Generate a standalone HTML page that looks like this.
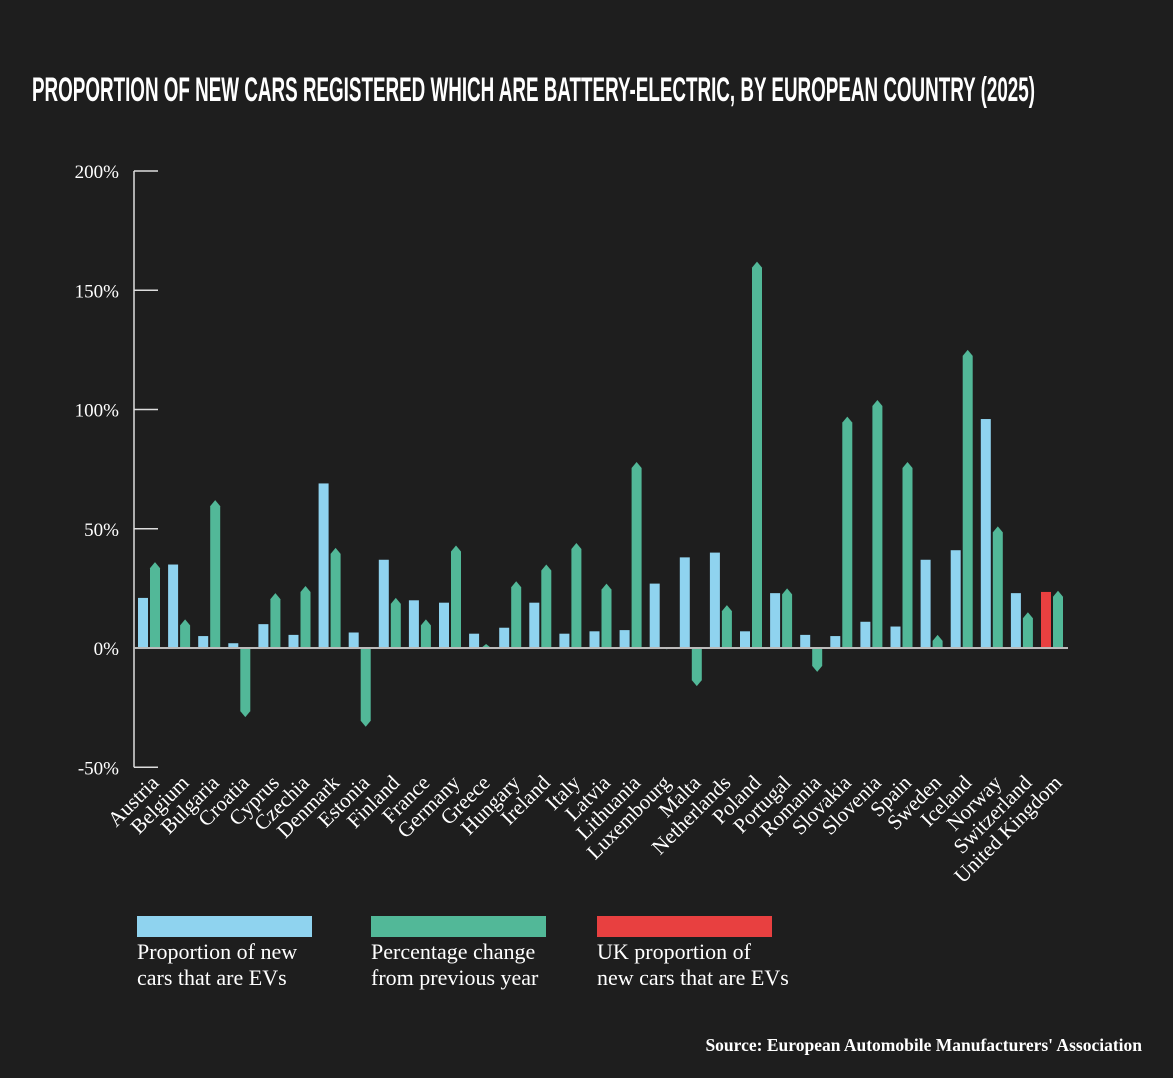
<!DOCTYPE html>
<html><head><meta charset="utf-8"><style>
html,body{margin:0;padding:0;background:#1e1e1e;}
svg{display:block}
</style></head><body>
<svg id="chart" width="1173" height="1078" xmlns="http://www.w3.org/2000/svg">
<rect width="1173" height="1078" fill="#1e1e1e"/>
<text x="32" y="101" fill="#fff" font-family="Liberation Sans Narrow, Liberation Sans, sans-serif" font-weight="bold" font-size="34" textLength="1003" lengthAdjust="spacingAndGlyphs">PROPORTION OF NEW CARS REGISTERED WHICH ARE BATTERY-ELECTRIC, BY EUROPEAN COUNTRY (2025)</text>
<g id="axis"></g>
<g id="bars"></g>
<g id="xlabels"></g>
<g font-family="Liberation Serif, serif" font-size="22" fill="#fff">
<rect x="137" y="916" width="175" height="21" fill="#8fd3ef"/>
<text x="137" y="959"><tspan x="137">Proportion of new</tspan><tspan x="137" dy="26">cars that are EVs</tspan></text>
<rect x="371" y="916" width="175" height="21" fill="#52b898"/>
<text x="371" y="959"><tspan x="371">Percentage change</tspan><tspan x="371" dy="26">from previous year</tspan></text>
<rect x="597" y="916" width="175" height="21" fill="#e84040"/>
<text x="597" y="959"><tspan x="597">UK proportion of</tspan><tspan x="597" dy="26">new cars that are EVs</tspan></text>
</g>
<text x="1142" y="1051" text-anchor="end" fill="#fff" font-family="Liberation Serif, serif" font-weight="bold" font-size="17.5">Source:  European Automobile Manufacturers' Association</text>
</svg>
<script>
const countries=["Austria","Belgium","Bulgaria","Croatia","Cyprus","Czechia","Denmark","Estonia","Finland","France","Germany","Greece","Hungary","Ireland","Italy","Latvia","Lithuania","Luxembourg","Malta","Netherlands","Poland","Portugal","Romania","Slovakia","Slovenia","Spain","Sweden","Iceland","Norway","Switzerland","United Kingdom"];
const share=[21,35,5,2,10,5.5,69,6.5,37,20,19,6,8.5,19,6,7,7.5,27,38,40,7,23,5.5,5,11,9,37,41,96,23,23.5];
const change=[36,12,62,-29,23,26,42,-33,21,12,43,1.7,28,35,44,27,78,-0.5,-16,18,162,25,-10,97,104,78,5.5,125,51,15,24];
const ticks=[200,150,100,50,0,-50];
const ns="http://www.w3.org/2000/svg";
const y0=648, pxPer=2.385, x0=138, pitch=30.1, bw=10;
const yS=v=>y0-v*pxPer;
function mk(tag,attrs,parent){const e=document.createElementNS(ns,tag);for(const k in attrs)e.setAttribute(k,attrs[k]);parent.appendChild(e);return e;}
const axis=document.getElementById('axis');
let al=mk('line',{x1:134,x2:134,y1:yS(200),y2:yS(-50),stroke:'#ddd','stroke-width':1.5},axis);


ticks.forEach(t=>{
  const l=mk('line',{x1:134,x2:158,y1:yS(t),y2:yS(t),stroke:'#ddd','stroke-width':1.5},axis);
  
  
  const tx=mk('text',{x:119,y:yS(t)+7,'text-anchor':'end',fill:'#fff','font-family':'Liberation Serif, serif','font-size':19},axis);
  tx.textContent=t+'%';
  
  
});
const bars=document.getElementById('bars');
const labs=document.getElementById('xlabels');
function arrowBar(x,v,fill){
  const top=yS(v),tip=Math.min(6,Math.abs(v*pxPer));
  const s=v>=0?1:-1;
  const p=`M${x},${y0} L${x},${top+s*tip} L${x+bw/2},${top} L${x+bw},${top+s*tip} L${x+bw},${y0} Z`;
  return mk('path',{d:p,fill:fill},bars);
}
countries.forEach((c,i)=>{
  const gx=x0+i*pitch;
  const uk=c==="United Kingdom";
  const b=mk('rect',{x:gx,y:Math.min(yS(share[i]),y0),width:bw,height:Math.abs(share[i]*pxPer),fill:uk?'#e84040':'#8fd3ef'},bars);
  
  
  const g=arrowBar(gx+12,change[i],'#52b898');
  
  
  const t=mk('text',{x:0,y:0,'text-anchor':'end',fill:'#fff','font-family':'Liberation Serif, serif','font-size':21,transform:`translate(${gx+22},${784}) rotate(-45)`},labs);
  t.textContent=c;
  
  
});
const bl=mk('line',{x1:134,x2:1068,y1:y0,y2:y0,stroke:'#bbb','stroke-width':2},bars);


</script>
</body></html>
